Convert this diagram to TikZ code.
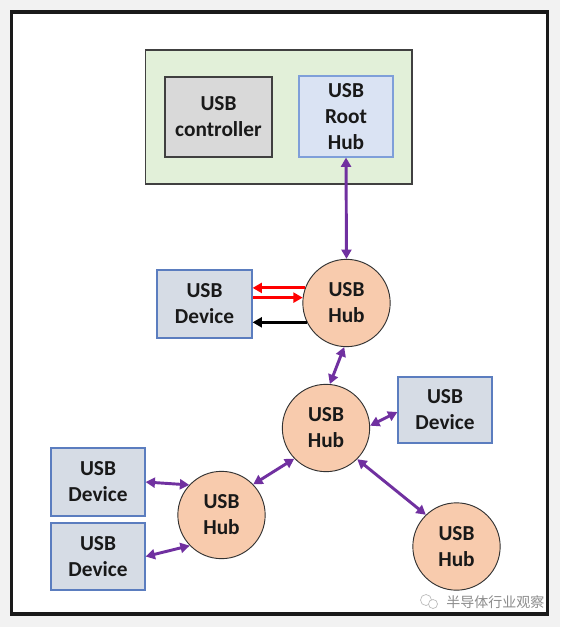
\documentclass[tikz,border=0pt]{standalone}
\usepackage{fontspec}
\setmainfont{Carlito}
\newfontfamily\cjk{Noto Sans CJK SC}
\usetikzlibrary{arrows.meta,calc}
\definecolor{bgcol}{HTML}{F2F2F2}
\definecolor{framecol}{HTML}{1A1A1A}
\definecolor{greenfill}{HTML}{E2F0D9}
\definecolor{boxline}{HTML}{404040}
\definecolor{ctrlfill}{HTML}{D9D9D9}
\definecolor{rootfill}{HTML}{DAE3F3}
\definecolor{rootline}{HTML}{7F9FD9}
\definecolor{devfill}{HTML}{D6DCE5}
\definecolor{devline}{HTML}{5B7DBF}
\definecolor{hubfill}{HTML}{F8CBAD}
\definecolor{purp}{HTML}{7030A0}
\definecolor{wmgray}{HTML}{8C8C8C}
\tikzset{
  lbl/.style={font=\bfseries\fontsize{16}{19.5}\selectfont, align=center, text=black!90},
  devbox/.style={lbl, draw=devline, fill=devfill, line width=0.9pt, inner sep=0pt},
  hubnode/.style={lbl, circle, draw=black!80, fill=hubfill, line width=0.7pt, minimum size=65.5pt, inner sep=0pt},
  link/.style={draw=purp, line width=2.2pt, arrows={Triangle[length=7pt,width=7.5pt]-Triangle[length=7pt,width=7.5pt]}},
  sig/.style={line width=2.2pt, arrows={-Triangle[length=7pt,width=7.5pt]}}
}
\begin{document}
\begin{tikzpicture}[x=0.75pt,y=-0.75pt]
\useasboundingbox (0,0) rectangle (560,627);
\fill[bgcol] (0,0) rectangle (560,627);
\node[draw=framecol, fill=white, line width=2.3pt, minimum width=402.5pt, minimum height=451.5pt, inner sep=0pt] (frame) at (279.5,313) {};
\node[draw=boxline, fill=greenfill, line width=1pt, minimum width=200pt, minimum height=100.5pt, inner sep=0pt] (host) at (278.5,117) {};
\node[lbl, draw=boxline, fill=ctrlfill, line width=1pt, minimum width=80.25pt, minimum height=60pt, inner sep=0pt] (ctrl) at (218.5,117) {USB\\controller};
\node[lbl, draw=rootline, fill=rootfill, line width=0.8pt, minimum width=70.5pt, minimum height=60.75pt, inner sep=0pt] (root) at (346,116.5) {USB\\Root\\Hub};
\node[hubnode] (hub1) at (346.5,303) {USB\\Hub};
\node[hubnode] (hub2) at (326,428) {USB\\Hub};
\node[hubnode] (hub3) at (221.5,515) {USB\\Hub};
\node[hubnode] (hub4) at (456.5,546.5) {USB\\Hub};
\node[devbox, minimum width=71.25pt, minimum height=51pt] (dev1) at (204.5,304) {USB\\Device};
\node[devbox, minimum width=70.5pt, minimum height=49.5pt] (dev2) at (445,410) {USB\\Device};
\node[devbox, minimum width=70.5pt, minimum height=51pt] (dev3) at (98,482) {USB\\Device};
\node[devbox, minimum width=70.5pt, minimum height=50.25pt] (dev4) at (98,556.5) {USB\\Device};
% connectors
\draw[link] (root.south) -- (hub1.north);
\draw[link] (hub1.267) -- (hub2.85);
\draw[link] (hub2.3) -- ($(dev2.west)+(0,2)$);
\draw[link] (hub2.224) -- (hub3.44);
\draw[link] (hub2.315) -- (hub4.134);
\draw[link] (dev3.east) -- (hub3.137);
\draw[link] (dev4.east) -- (hub3.224);
\draw[sig, red] (hub1.160) -- (hub1.160 -| dev1.east);
\draw[sig, red] (hub1.173 -| dev1.east) -- (hub1.173);
\draw[sig, black] (hub1.206) -- (hub1.206 -| dev1.east);
% watermark
\node[inner sep=0pt, anchor=west, text=wmgray, font=\cjk\fontsize{10.5}{12}\selectfont] (wm) at (446,602) {半导体行业观察};
\draw[wmgray!60, line width=0.5pt] (426,600) circle (5.5);
\draw[wmgray!60, line width=0.5pt, fill=white] (433,604) circle (4.5);
\end{tikzpicture}
\end{document}
